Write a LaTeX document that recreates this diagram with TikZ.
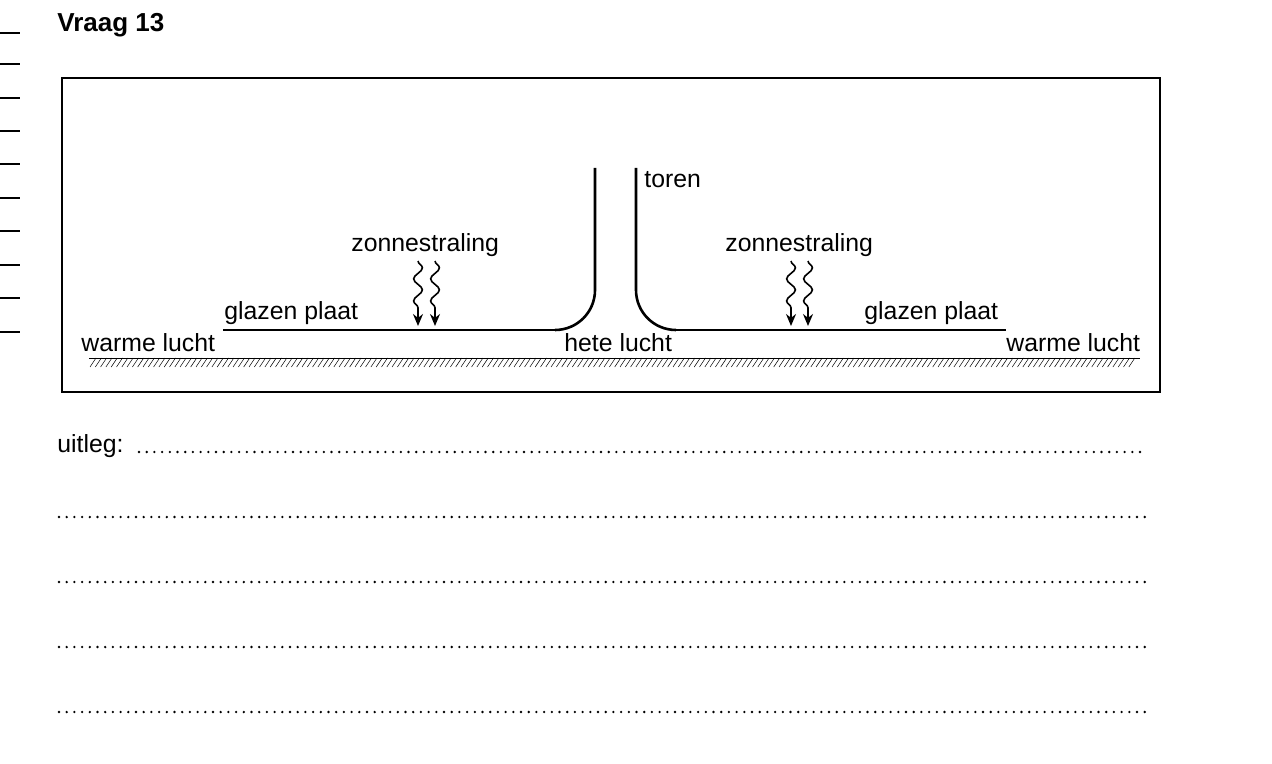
\documentclass[tikz,border=0pt]{standalone}
\usepackage{fontspec}
\setmainfont{Liberation Sans}
\usepackage{tikz}
\usetikzlibrary{calc,arrows.meta,decorations.pathmorphing}

\begin{document}
\begin{tikzpicture}[
  x=0.5pt,y=-0.5pt,
  txt/.style={anchor=base west,inner sep=0pt,font=\fontsize{12.4pt}{14pt}\selectfont},
  glass/.style={line width=0.75pt},
  wall/.style={line width=1.3pt},
  ray/.style={line width=0.8pt,-{Stealth[length=6pt,width=5pt]},decorate,
    decoration={snake,amplitude=2.2pt,segment length=11pt,post length=5pt}},
  dots/.style={line width=1.3pt,line cap=round,dash pattern=on 0pt off 3.85pt}
  ]
\useasboundingbox (0,0) rectangle (1272,764);
\def\gy{330}
\def\ground{358}
% margin ticks
\foreach \y in {33,64,131,198,231,265,298}
  \draw[line width=0.6pt] (0,\y) -- (20,\y);
\foreach \y in {98,164,332}
  \draw[line width=1.1pt] (0,\y) -- (20,\y);
\node[anchor=base west,inner sep=0pt,font=\fontsize{13pt}{15pt}\selectfont\bfseries] (vraag) at (57,32) {Vraag 13};
\draw[line width=0.65pt] (62,78) rectangle (1160,392);
% ground
\draw[line width=0.5pt] (89,\ground) -- (1140,\ground);
\foreach \x in {90,95.3,...,1130}
  \draw[line width=0.25pt] (\x,367) -- (\x+6,\ground);
% glass plates and tower
\draw[glass] (223,\gy) -- (555,\gy);
\draw[glass] (676,\gy) -- (1006,\gy);
\draw[wall] (595,168) -- (595,290) to[out=-90,in=0] (555,\gy);
\draw[wall] (636,168) -- (636,290) to[out=-90,in=180] (676,\gy);
% rays
\foreach \x in {418,435,791,808}
  \draw[ray] (\x,261) -- (\x,326);
% labels
\node[txt] (toren) at (644,188) {toren};
\node[txt] (zon1) at (351,252) {zonnestraling};
\node[txt] (zon2) at (725,252) {zonnestraling};
\node[txt] (plaat1) at (224,320) {glazen plaat};
\node[txt] (plaat2) at (864,320) {glazen plaat};
\node[txt] (warm1) at (81,351) {warme lucht};
\node[txt] (warm2) at (1006,351) {warme lucht};
\node[txt] (heet) at (564,351) {hete lucht};
% answer lines
\node[txt] (uitleg) at (57,452) {uitleg:};
\draw[dots] (139,452) -- (1145,452);
\foreach \y in {517,582,647,712}
  \draw[dots] (59,\y) -- (1151,\y);
\end{tikzpicture}
\end{document}
